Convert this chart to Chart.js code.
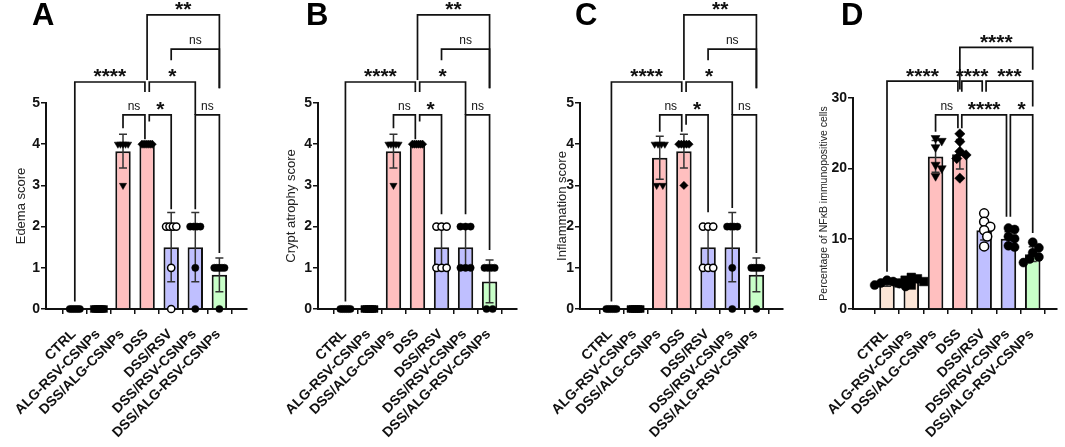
<!DOCTYPE html>
<html>
<head>
<meta charset="utf-8">
<script src="https://cdn.jsdelivr.net/npm/chart.js@4.4.0/dist/chart.umd.min.js"></script>
<style>
  body { margin: 0; background: #fff; }
  #wrap { position: relative; width: 1065px; height: 447px; overflow: hidden; }
  #wrap canvas { position: absolute; top: 0; }
  .letter { position: absolute; top: -1px; font: bold 31px "Liberation Sans", Arial, sans-serif; line-height: 31px; color: #000; }
</style>
</head>
<body>
<div id="wrap">
  <canvas id="cA" width="265" height="447" style="left:0px"></canvas>
  <canvas id="cB" width="268" height="447" style="left:265px"></canvas>
  <canvas id="cC" width="267" height="447" style="left:533px"></canvas>
  <canvas id="cD" width="265" height="447" style="left:800px"></canvas>
  <div class="letter" style="left:32px">A</div>
  <div class="letter" style="left:306px">B</div>
  <div class="letter" style="left:575px">C</div>
  <div class="letter" style="left:841px">D</div>
</div>
<script>
// groups on the x axis
const categories = ['CTRL', 'ALG-RSV-CSNPs', 'DSS/ALG-CSNPs', 'DSS', 'DSS/RSV', 'DSS/RSV-CSNPs', 'DSS/ALG-RSV-CSNPs'];
const barColors = ['#FCE5D6', '#FCE5D6', '#FFBFBF', '#FFBFBF', '#BFBFFF', '#BFBFFF', '#C8FFC8'];
// marker per group
const markerStyles = ['circle', 'rect', 'triangle', 'rectRot', 'circle', 'circle', 'circle'];
const markerOpen = [false, false, false, false, true, false, false];

// A - edema
const edemaMeans = [0, 0, 3.83, 4, 1.5, 1.5, 0.83];
const edemaSD = [0, 0, 0.41, 0, 0.84, 0.84, 0.41];
const edemaPoints = [
  [0, 0, 0, 0, 0, 0], [0, 0, 0, 0, 0, 0], [4, 4, 4, 4, 4, 3], [4, 4, 4, 4, 4, 4],
  [2, 2, 2, 2, 1, 0], [2, 2, 2, 2, 1, 0], [1, 1, 1, 1, 1, 0]
];

// B - crypt atrophy
const cryptMeans = [0, 0, 3.83, 4, 1.5, 1.5, 0.67];
const cryptSD = [0, 0, 0.41, 0, 0.55, 0.55, 0.52];
const cryptPoints = [
  [0, 0, 0, 0, 0, 0], [0, 0, 0, 0, 0, 0], [4, 4, 4, 4, 4, 3], [4, 4, 4, 4, 4, 4],
  [2, 2, 2, 1, 1, 1], [2, 2, 2, 1, 1, 1], [1, 1, 1, 1, 0, 0]
];

// C - inflammation
const inflamMeans = [0, 0, 3.67, 3.83, 1.5, 1.5, 0.83];
const inflamSD = [0, 0, 0.52, 0.41, 0.55, 0.84, 0.41];
const inflamPoints = [
  [0, 0, 0, 0, 0, 0], [0, 0, 0, 0, 0, 0], [4, 4, 4, 4, 3, 3], [4, 4, 4, 4, 4, 3],
  [2, 2, 2, 1, 1, 1], [2, 2, 2, 2, 1, 0], [1, 1, 1, 1, 1, 0]
];

// D - NFkB immunopositive cells (%)
const nfkbMeans = [3.6, 3.9, 21.7, 22.0, 11.2, 10.0, 7.8];
const nfkbSD = [0.35, 0.45, 2.25, 2.1, 1.4, 1.0, 1.05];
const nfkbPoints = [
  [4.1, 3.9, 3.7, 3.6, 3.4, 3.2], [4.5, 4.3, 4.1, 3.9, 3.7, 3.4],
  [24.3, 23.9, 23.0, 20.5, 20.0, 18.9], [24.9, 23.8, 22.4, 21.9, 21.4, 18.6],
  [13.6, 12.4, 11.7, 11.2, 10.3, 8.9], [11.5, 11.3, 10.3, 10.0, 9.0, 8.8],
  [9.5, 8.7, 8.0, 7.4, 7.1, 6.6]
];

// significance brackets: [from, to, level, left leg end, right leg end, label, left nudge, right nudge]
const edemaBrackets = [
  [2, 3, 4.71, 4.39, 4.12, 'ns', 0, -0.09],
  [3, 4, 4.71, 4.55, 2.42, '*', 0.09, 0],
  [5, 6, 4.71, 2.42, 1.36, 'ns', 0, 0],
  [0, 3, 5.51, 0.18, 5.27, '****', 0, -0.09],
  [3, 5, 5.51, 5.27, 4.71, '*', 0.09, 0],
  [4, 6, 6.31, 6.04, 5.36, 'ns', 0, 0],
  [3, 6, 7.14, 5.56, 5.36, '**', 0, 0]
];
const cryptBrackets = [
  [2, 3, 4.71, 4.39, 4.12, 'ns', 0, -0.09],
  [3, 4, 4.71, 4.55, 2.3, '*', 0.09, 0],
  [5, 6, 4.71, 2.3, 1.43, 'ns', 0, 0],
  [0, 3, 5.51, 0.18, 5.27, '****', 0, -0.09],
  [3, 5, 5.51, 5.27, 4.71, '*', 0.09, 0],
  [4, 6, 6.31, 6.04, 5.36, 'ns', 0, 0],
  [3, 6, 7.14, 5.56, 5.36, '**', 0, 0]
];
const inflamBrackets = [
  [2, 3, 4.71, 4.3, 4.3, 'ns', 0, -0.09],
  [3, 4, 4.71, 4.47, 2.35, '*', 0.09, 0],
  [5, 6, 4.71, 2.45, 1.36, 'ns', 0, 0],
  [0, 3, 5.51, 0.18, 5.27, '****', 0, -0.09],
  [3, 5, 5.51, 5.27, 4.71, '*', 0.09, 0],
  [4, 6, 6.31, 6.04, 5.36, 'ns', 0, 0],
  [3, 6, 7.14, 5.56, 5.36, '**', 0, 0]
];
const nfkbBrackets = [
  [2, 3, 27.6, 25.2, 25.7, 'ns', 0, -0.08],
  [3, 5, 27.6, 25.7, 13.1, '****', 0.08, -0.08],
  [5, 6, 27.6, 13.1, 10.8, '*', 0.08, 0],
  [0, 3, 32.4, 5.3, 30.9, '****', 0, -0.08],
  [3, 4, 32.4, 30.9, 30.9, '****', 0.08, -0.08],
  [4, 6, 32.4, 30.9, 28.8, '***', 0.08, 0],
  [3, 6, 37.2, 31.2, 34.0, '****', 0, 0]
];

Chart.defaults.font.family = "'Liberation Sans', Arial, sans-serif";
Chart.defaults.color = '#111';

const CAT_PX = 28.3;

// horizontal spread of the dots inside a bar
function spreadX(vals, mode, pxPerUnit, r) {
  const off = new Array(vals.length).fill(0);
  if (mode === 'row') {
    const groups = new Map();
    vals.forEach((v, k) => {
      if (!groups.has(v)) groups.set(v, []);
      groups.get(v).push(k);
    });
    groups.forEach(ks => {
      const n = ks.length;
      const step = n > 1 ? Math.min(2 * r, 12 / (n - 1)) : 0;
      ks.forEach((k, j) => { off[k] = (j - (n - 1) / 2) * step / CAT_PX; });
    });
  } else {
    const placed = [];
    const minD = 1.6 * r, s = minD / 2;
    vals.forEach((v, k) => {
      const py = v * pxPerUnit;
      for (let t = 0; t < 30; t++) {
        const dx = (t % 2 ? 1 : -1) * Math.ceil(t / 2) * s;
        if (placed.every(p => Math.hypot(p[0] - dx, p[1] - py) >= minD)) {
          placed.push([dx, py]);
          off[k] = dx / CAT_PX;
          break;
        }
      }
    });
  }
  return off;
}

function errorBarPlugin(means, sd) {
  return {
    id: 'errbars',
    afterDatasetDraw(chart, args) {
      if (args.meta.type !== 'bar') return;
      const ctx = chart.ctx, xs = chart.scales.x, ys = chart.scales.y;
      ctx.save();
      ctx.strokeStyle = '#333';
      ctx.lineWidth = 1.5;
      means.forEach((m, i) => {
        if (!sd[i]) return;
        const x = xs.getPixelForValue(i);
        const top = ys.getPixelForValue(m + sd[i]);
        const bot = ys.getPixelForValue(Math.max(m - sd[i], 0));
        ctx.beginPath();
        ctx.moveTo(x, top); ctx.lineTo(x, bot);
        ctx.moveTo(x - 4, top); ctx.lineTo(x + 4, top);
        ctx.moveTo(x - 4, bot); ctx.lineTo(x + 4, bot);
        ctx.stroke();
      });
      ctx.restore();
    }
  };
}

function bracketPlugin(list) {
  return {
    id: 'brackets',
    afterDraw(chart) {
      const ctx = chart.ctx, xs = chart.scales.x, ys = chart.scales.y;
      ctx.save();
      ctx.strokeStyle = '#111';
      ctx.fillStyle = '#111';
      ctx.lineWidth = 1.7;
      list.forEach(b => {
        const [a, c, lvl, lb, rb, txt, dl, dr] = b;
        const x1 = xs.getPixelForValue(a + dl), x2 = xs.getPixelForValue(c + dr);
        const yl = ys.getPixelForValue(lvl);
        ctx.beginPath();
        ctx.moveTo(x1, ys.getPixelForValue(lb));
        ctx.lineTo(x1, yl);
        ctx.lineTo(x2, yl);
        ctx.lineTo(x2, ys.getPixelForValue(rb));
        ctx.stroke();
        ctx.textAlign = 'center';
        ctx.textBaseline = 'alphabetic';
        if (txt === 'ns') {
          ctx.font = "12px 'Liberation Sans', Arial, sans-serif";
          ctx.fillText(txt, (x1 + x2) / 2, yl - 5);
        } else {
          ctx.font = "bold 21px 'Liberation Sans', Arial, sans-serif";
          ctx.fillText(txt, (x1 + x2) / 2, yl + 1.5);
        }
      });
      ctx.restore();
    }
  };
}

function makePanel(p) {
  const datasets = [];
  categories.forEach((c, i) => {
    const off = spreadX(p.points[i], p.mode, p.pxPerUnit, p.r);
    datasets.push({
      type: 'scatter',
      data: p.points[i].map((v, k) => ({ x: i + off[k], y: v })),
      pointStyle: markerStyles[i],
      pointRadius: markerStyles[i] === 'rect' ? p.r * 1.35 : (markerStyles[i] === 'circle' ? p.r : p.r * 1.15),
      rotation: markerStyles[i] === 'triangle' ? 180 : 0,
      backgroundColor: markerOpen[i] ? '#fff' : '#000',
      borderColor: '#000',
      borderWidth: markerOpen[i] ? 1.5 : 0.5,
      clip: false,
      order: 1
    });
  });
  datasets.push({
    type: 'bar',
    data: p.means.map((v, i) => ({ x: i, y: v })),
    backgroundColor: barColors,
    borderColor: '#111',
    borderWidth: 2,
    barPercentage: 0.8,
    categoryPercentage: 0.8,
    order: 2
  });

  new Chart(document.getElementById(p.id), {
    type: 'bar',
    data: { datasets },
    options: {
      responsive: false,
      animation: false,
      events: [],
      layout: { padding: { top: p.padTop, right: p.padRight, left: 0, bottom: 0 } },
      plugins: { legend: { display: false }, tooltip: { enabled: false } },
      scales: {
        x: {
          type: 'linear',
          min: p.xMin,
          max: p.xMax,
          afterFit: s => { s.height = 138; },
          border: { color: '#111', width: 2 },
          grid: { display: true, drawOnChartArea: false, drawTicks: true, tickLength: 5, color: '#111', lineWidth: 1.5 },
          ticks: {
            stepSize: 1,
            includeBounds: false,
            autoSkip: false,
            minRotation: 45,
            maxRotation: 45,
            padding: 12,
            labelOffset: -1,
            color: '#111',
            font: { size: 14, weight: 'bold' },
            callback: v => categories[v]
          }
        },
        y: {
          min: 0,
          max: p.yMax,
          afterFit: s => { s.width = p.axisLeft; },
          border: { color: '#111', width: 2 },
          grid: { display: true, drawOnChartArea: false, drawTicks: true, tickLength: 5, color: '#111', lineWidth: 1.5 },
          ticks: { stepSize: p.yStep, padding: 1, color: '#111', font: { size: p.tickSize, weight: 'bold' } },
          title: {
            display: true,
            text: p.title,
            color: '#222',
            font: { size: p.titleSize },
            padding: { top: p.titlePad, bottom: 0 }
          }
        }
      }
    },
    plugins: [errorBarPlugin(p.means, p.sd), bracketPlugin(p.brackets)]
  });
}

makePanel({ id: 'cA', means: edemaMeans, sd: edemaSD, points: edemaPoints, brackets: edemaBrackets,
  title: 'Edema score', titleSize: 13, titlePad: 14, yMax: 5, yStep: 1, tickSize: 14,
  axisLeft: 46, padRight: 18, padTop: 103, xMin: -0.6, xMax: 6.55, mode: 'row', r: 3.6, pxPerUnit: 41.2 });
makePanel({ id: 'cB', means: cryptMeans, sd: cryptSD, points: cryptPoints, brackets: cryptBrackets,
  title: 'Crypt atrophy score', titleSize: 13, titlePad: 19, yMax: 5, yStep: 1, tickSize: 14,
  axisLeft: 53, padRight: 16, padTop: 103, xMin: -0.55, xMax: 6.55, mode: 'row', r: 3.6, pxPerUnit: 41.2 });
makePanel({ id: 'cC', means: inflamMeans, sd: inflamSD, points: inflamPoints, brackets: inflamBrackets,
  title: 'Inflammation score', titleSize: 13, titlePad: 22, yMax: 5, yStep: 1, tickSize: 14,
  axisLeft: 47, padRight: 17, padTop: 103, xMin: -0.7, xMax: 6.5, mode: 'row', r: 3.6, pxPerUnit: 41.2 });
makePanel({ id: 'cD', means: nfkbMeans, sd: nfkbSD, points: nfkbPoints, brackets: nfkbBrackets,
  title: 'Percentage of NFκB immunopositive cells', titleSize: 10.5, titlePad: 18, yMax: 30, yStep: 10, tickSize: 14,
  axisLeft: 53, padRight: 8, padTop: 98, xMin: -0.8, xMax: 6.4, mode: 'swarm', r: 4.5, pxPerUnit: 7.03 });
</script>
</body>
</html>
